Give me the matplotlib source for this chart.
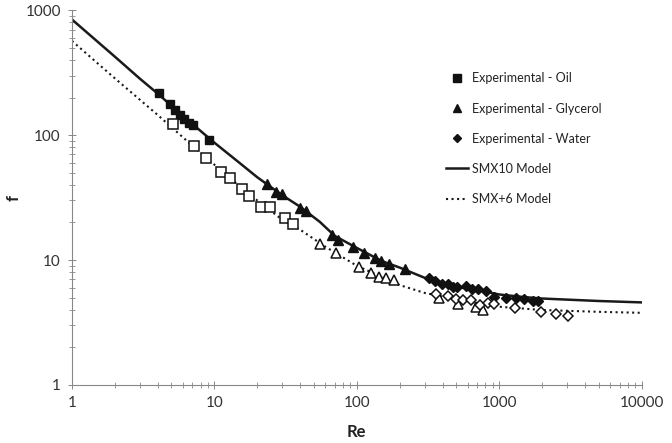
import numpy as np
import matplotlib.pyplot as plt

plt.rcParams['font.family'] = ['Lato', 'DejaVu Sans']

# SMX10 experimental (filled markers)
oil_re = [4.11, 4.91, 5.26, 5.70, 6.08, 6.59, 7.08, 9.10]
oil_f = [218, 177, 158, 145, 134, 126, 120, 91]
gly_re = [23.4, 27.2, 29.8, 39.6, 43.8, 66.8, 74.3, 93.8, 113, 134, 147, 167, 218]
gly_f = [40.3, 35.2, 33.5, 25.9, 24.5, 15.8, 14.5, 12.8, 11.4, 10.3, 9.87, 9.24, 8.47]
wat_re = [320, 354, 394, 439, 471, 508, 584, 640, 705, 807, 923, 1114, 1309, 1497, 1731, 1878]
wat_f = [7.18, 6.83, 6.46, 6.46, 6.05, 6.03, 6.16, 5.89, 5.84, 5.62, 5.09, 5.01, 4.94, 4.88, 4.72, 4.72]

# SMX+6 experimental (open markers)
oil6_re = [5.13, 7.23, 8.73, 11.1, 12.9, 15.6, 17.4, 21.3, 24.4, 31.4, 35.9]
oil6_f = [122, 82, 65.8, 51, 45.3, 36.8, 32.7, 26.7, 26.7, 21.8, 19.4]
gly6_re = [55.3, 71.6, 104, 126, 143, 160, 181, 380, 516, 687, 772]
gly6_f = [13.4, 11.4, 8.84, 7.91, 7.35, 7.22, 6.92, 4.94, 4.45, 4.17, 3.98]
wat6_re = [362, 439, 500, 560, 633, 732, 838, 918, 1279, 1950, 2500, 3050]
wat6_f = [5.33, 5.13, 4.85, 4.81, 4.79, 4.37, 4.51, 4.43, 4.13, 3.86, 3.70, 3.56]

# model curves
smx10_re = [1, 2, 3, 4, 6, 8, 10, 15, 20, 30, 40, 55, 70, 100, 150, 200, 300, 500, 700, 1000, 1500, 2000, 3000, 5000, 10000]
smx10_f = [843, 425, 283, 215, 143, 108, 87, 60, 46, 33, 26.7, 20.2, 15.6, 12.5, 9.8, 8.7, 7.2, 6.1, 5.75, 5.3, 5.05, 4.92, 4.82, 4.7, 4.58]
smx6_re = [1, 2, 4, 8, 10, 15, 20, 30, 40, 60, 100, 200, 300, 500, 1000, 2000, 5000, 10000]
smx6_f = [568, 285, 145, 72, 58, 39, 30, 21, 17.5, 12.8, 9.0, 6.3, 5.45, 4.85, 4.23, 3.98, 3.85, 3.78]

fig = plt.figure(figsize=(6.72, 4.43), dpi=100)
ax = fig.add_axes([0.107, 0.131, 0.848, 0.846])

ax.plot(smx10_re, smx10_f, '-', color='#1a1a1a', lw=1.8, label='SMX10 Model', zorder=2)
ax.plot(smx6_re, smx6_f, ':', color='#1a1a1a', lw=1.5, label='SMX+6 Model', zorder=2)

ax.plot(oil_re, oil_f, 's', color='#111111', ms=6, ls='none', label='Experimental - Oil', zorder=3)
ax.plot(gly_re, gly_f, '^', color='#111111', ms=6.5, ls='none', label='Experimental - Glycerol', zorder=3)
ax.plot(wat_re, wat_f, 'D', color='#111111', ms=5, ls='none', label='Experimental - Water', zorder=3)

ax.plot(oil6_re, oil6_f, 's', mfc='white', mec='#111111', mew=1.1, ms=7, ls='none', zorder=3)
ax.plot(gly6_re, gly6_f, '^', mfc='white', mec='#111111', mew=1.1, ms=7.5, ls='none', zorder=3)
ax.plot(wat6_re, wat6_f, 'D', mfc='white', mec='#111111', mew=1.1, ms=5.5, ls='none', zorder=3)

ax.set_xscale('log')
ax.set_yscale('log')
ax.set_xlim(1, 10000)
ax.set_ylim(1, 1000)
ax.set_xticks([1, 10, 100, 1000, 10000])
ax.set_xticklabels(['1', '10', '100', '1000', '10000'])
ax.set_yticks([1, 10, 100, 1000])
ax.set_yticklabels(['1', '10', '100', '1000'])

for s in ['top', 'right']:
    ax.spines[s].set_visible(False)
for s in ['left', 'bottom']:
    ax.spines[s].set_color('#888888')
    ax.spines[s].set_linewidth(0.8)
    ax.spines[s].set_linestyle((0, (2, 1)))

ax.tick_params(which='major', direction='inout', length=6, width=0.7, color='#888888',
               labelsize=11, labelcolor='#333333', pad=5)
ax.tick_params(which='minor', direction='inout', length=4, width=0.6, color='#888888')

ax.set_xlabel('Re', fontsize=12, fontweight='bold', color='#222222', labelpad=10)
ax.set_ylabel('f', fontsize=12, fontweight='bold', color='#222222')
ax.yaxis.set_label_coords(-0.088, 0.5)

handles, labels = ax.get_legend_handles_labels()
order = [2, 3, 4, 0, 1]
leg = ax.legend([handles[i] for i in order], [labels[i] for i in order],
                loc='upper left', bbox_to_anchor=(0.636, 0.864), frameon=False,
                fontsize=9, labelspacing=1.45, handlelength=1.8, handletextpad=0.3,
                labelcolor='#222222', markerscale=0.85)

fig.savefig('out.png', dpi=100)
